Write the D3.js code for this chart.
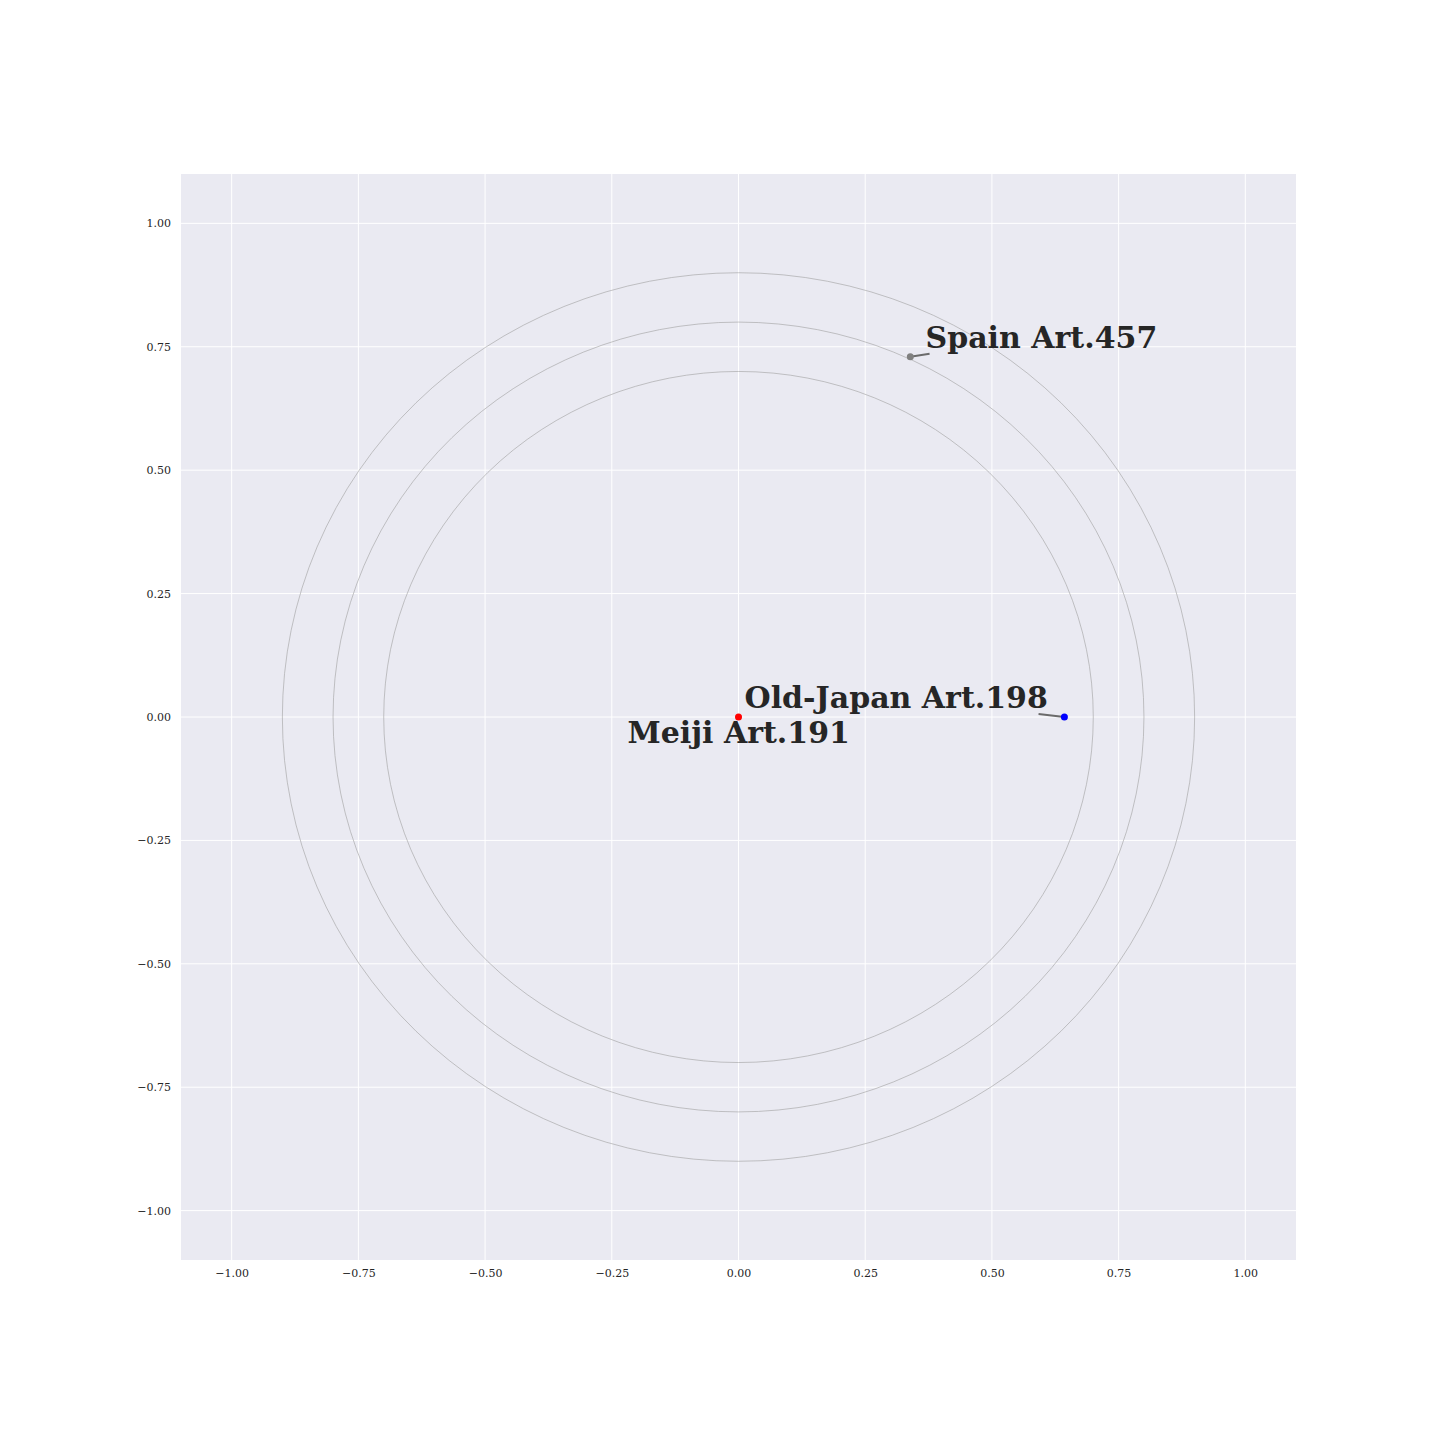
<!DOCTYPE html>
<html><head><meta charset="utf-8">
<script src="https://cdn.jsdelivr.net/npm/d3@7"></script>
<style>body{margin:0;background:#fff;}svg{display:block;}</style>
</head><body>
<script>
// Data
const names = ["Meiji Art.191", "Old-Japan Art.198", "Spain Art.457"];
const xs = [0.0, 0.643, 0.339];
const ys = [0.0, 0.0, 0.730];
const colors = ["red", "blue", "grey"];
const labelX = [-0.219, 0.012, 0.369];
const labelY = [-0.053, 0.018, 0.748];
const leaderX = [0.0, 0.592, 0.377];
const leaderY = [0.0, 0.006, 0.736];
const radii = [0.7, 0.8, 0.9];
const ticks = [-1.0, -0.75, -0.5, -0.25, 0.0, 0.25, 0.5, 0.75, 1.0];

(function(){
const W = 1440, H = 1440;
const pL = 181, pR = 1296, pT = 174, pB = 1260;
const svg = d3.select("body").append("svg").attr("width", W).attr("height", H);
const x = d3.scaleLinear().domain([-1.1, 1.1]).range([pL, pR]);
const y = d3.scaleLinear().domain([-1.1, 1.1]).range([pB, pT]);

svg.append("rect").attr("x", pL).attr("y", pT).attr("width", pR - pL).attr("height", pB - pT).attr("fill", "#EAEAF2");

const fmt = d => d3.format(".2f")(d).replace("-", "\u2212");
svg.append("g").selectAll("line").data(ticks).join("line")
  .attr("x1", d => x(d)).attr("x2", d => x(d)).attr("y1", pT).attr("y2", pB)
  .attr("stroke", "#fff").attr("stroke-width", 1);
svg.append("g").selectAll("line").data(ticks).join("line")
  .attr("y1", d => y(d)).attr("y2", d => y(d)).attr("x1", pL).attr("x2", pR)
  .attr("stroke", "#fff").attr("stroke-width", 1);

const xAxis = d3.axisBottom(x).tickValues(ticks).tickFormat(fmt).tickSize(0).tickPadding(9);
const yAxis = d3.axisLeft(y).tickValues(ticks).tickFormat(fmt).tickSize(0).tickPadding(10);
const gx = svg.append("g").attr("transform", `translate(0,${pB})`).call(xAxis);
const gy = svg.append("g").attr("transform", `translate(${pL},0)`).call(yAxis);
[gx, gy].forEach(g => {
  g.select(".domain").remove();
  g.selectAll("text").attr("font-family", "DejaVu Serif").attr("font-size", 11).attr("fill", "#262626");
});

svg.append("g").selectAll("ellipse").data(radii).join("ellipse")
  .attr("cx", x(0)).attr("cy", y(0))
  .attr("rx", d => x(d) - x(0)).attr("ry", d => y(0) - y(d))
  .attr("fill", "none").attr("stroke", "#a0a0a0").attr("stroke-width", 0.6);

svg.append("g").selectAll("line").data(names).join("line")
  .attr("x1", (d, i) => x(xs[i])).attr("y1", (d, i) => y(ys[i]))
  .attr("x2", (d, i) => x(leaderX[i])).attr("y2", (d, i) => y(leaderY[i]))
  .attr("stroke", "#6b6b6b").attr("stroke-width", 2);

svg.append("g").selectAll("circle").data(names).join("circle")
  .attr("cx", (d, i) => x(xs[i])).attr("cy", (d, i) => y(ys[i])).attr("r", 3.5)
  .attr("fill", (d, i) => colors[i]);

svg.append("g").selectAll("text").data(names).join("text")
  .attr("x", (d, i) => x(labelX[i])).attr("y", (d, i) => y(labelY[i]))
  .attr("font-family", "DejaVu Serif").attr("font-weight", "bold").attr("font-size", 30)
  .attr("fill", "#262626").text(d => d);
})();
</script>
</body></html>
